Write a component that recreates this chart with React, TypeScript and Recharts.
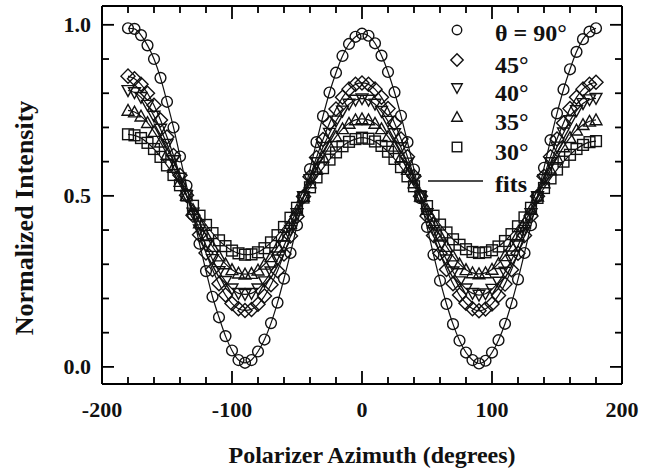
import React from "react";
import { LineChart, Line, XAxis, YAxis } from "recharts";

if (typeof document !== "undefined") document.body.style.margin = "0";

const FONT = "'Liberation Serif', 'Times New Roman', serif";

// polarizer azimuth, degrees
const ANGLES = [
  -180, -175, -170, -165, -160, -155, -150, -145, -140, -135, -130, -125, -120, -115, -110, -105, -100, -95, -90,
  -85, -80, -75, -70, -65, -60, -55, -50, -45, -40, -35, -30, -25, -20, -15, -10, -5, 0,
  5, 10, 15, 20, 25, 30, 35, 40, 45, 50, 55, 60, 65, 70, 75, 80, 85, 90,
  95, 100, 105, 110, 115, 120, 125, 130, 135, 140, 145, 150, 155, 160, 165, 170, 175, 180,
];

// normalized intensity, one list per theta
const THETA_90 = [
  0.99, 0.988, 0.97, 0.94, 0.9, 0.845, 0.775, 0.7, 0.615, 0.53, 0.445, 0.36, 0.28, 0.205, 0.145, 0.09, 0.048, 0.02, 0.012,
  0.02, 0.045, 0.08, 0.128, 0.188, 0.258, 0.333, 0.414, 0.497, 0.578, 0.657, 0.733, 0.802, 0.86, 0.909, 0.944, 0.965, 0.974,
  0.968, 0.946, 0.91, 0.862, 0.803, 0.734, 0.657, 0.577, 0.493, 0.409, 0.328, 0.252, 0.184, 0.125, 0.077, 0.042, 0.02, 0.01,
  0.018, 0.042, 0.078, 0.126, 0.186, 0.256, 0.333, 0.414, 0.498, 0.582, 0.663, 0.741, 0.811, 0.87, 0.921, 0.958, 0.98, 0.99,
];
const THETA_45 = [
  0.85, 0.842, 0.826, 0.8, 0.765, 0.722, 0.672, 0.618, 0.56, 0.502, 0.443, 0.386, 0.333, 0.285, 0.243, 0.21, 0.185, 0.17, 0.165,
  0.168, 0.183, 0.207, 0.24, 0.281, 0.33, 0.383, 0.44, 0.498, 0.556, 0.612, 0.665, 0.712, 0.754, 0.788, 0.812, 0.826, 0.83,
  0.826, 0.812, 0.788, 0.755, 0.713, 0.666, 0.614, 0.557, 0.499, 0.441, 0.384, 0.332, 0.285, 0.243, 0.21, 0.186, 0.17, 0.164,
  0.169, 0.184, 0.209, 0.242, 0.284, 0.332, 0.384, 0.441, 0.499, 0.557, 0.614, 0.666, 0.713, 0.755, 0.788, 0.812, 0.826, 0.832,
];
const THETA_40 = [
  0.808, 0.802, 0.788, 0.765, 0.733, 0.695, 0.651, 0.603, 0.552, 0.501, 0.45, 0.401, 0.355, 0.314, 0.279, 0.25, 0.228, 0.215, 0.212,
  0.215, 0.228, 0.249, 0.278, 0.313, 0.354, 0.399, 0.448, 0.498, 0.548, 0.597, 0.642, 0.683, 0.719, 0.748, 0.768, 0.78, 0.784,
  0.78, 0.768, 0.747, 0.718, 0.682, 0.641, 0.596, 0.548, 0.498, 0.448, 0.399, 0.354, 0.313, 0.278, 0.249, 0.228, 0.215, 0.21,
  0.214, 0.227, 0.248, 0.277, 0.312, 0.354, 0.399, 0.448, 0.498, 0.548, 0.597, 0.643, 0.684, 0.72, 0.749, 0.77, 0.781, 0.785,
];
const THETA_35 = [
  0.75, 0.745, 0.733, 0.714, 0.688, 0.657, 0.621, 0.583, 0.542, 0.501, 0.46, 0.421, 0.385, 0.352, 0.324, 0.301, 0.284, 0.274, 0.271,
  0.273, 0.283, 0.3, 0.322, 0.35, 0.383, 0.419, 0.458, 0.498, 0.538, 0.577, 0.613, 0.645, 0.673, 0.696, 0.712, 0.722, 0.725,
  0.722, 0.712, 0.696, 0.673, 0.645, 0.613, 0.577, 0.538, 0.499, 0.46, 0.421, 0.385, 0.352, 0.324, 0.301, 0.284, 0.275, 0.272,
  0.275, 0.285, 0.302, 0.325, 0.353, 0.386, 0.421, 0.46, 0.499, 0.538, 0.576, 0.611, 0.643, 0.67, 0.692, 0.708, 0.718, 0.722,
];
const THETA_30 = [
  0.68, 0.677, 0.669, 0.655, 0.637, 0.614, 0.589, 0.561, 0.531, 0.501, 0.471, 0.442, 0.415, 0.391, 0.37, 0.353, 0.34, 0.332, 0.328,
  0.329, 0.335, 0.347, 0.364, 0.385, 0.409, 0.436, 0.465, 0.495, 0.525, 0.554, 0.581, 0.606, 0.627, 0.645, 0.658, 0.666, 0.67,
  0.667, 0.659, 0.646, 0.629, 0.608, 0.584, 0.557, 0.528, 0.499, 0.47, 0.442, 0.416, 0.393, 0.373, 0.357, 0.344, 0.336, 0.333,
  0.335, 0.341, 0.352, 0.368, 0.388, 0.411, 0.437, 0.465, 0.494, 0.523, 0.551, 0.577, 0.6, 0.62, 0.637, 0.649, 0.657, 0.66,
];

const X_TICKS = [-200, -180, -160, -140, -120, -100, -80, -60, -40, -20, 0, 20, 40, 60, 80, 100, 120, 140, 160, 180, 200];
const Y_TICKS = [0, 0.1, 0.2, 0.3, 0.4, 0.5, 0.6, 0.7, 0.8, 0.9, 1.0];
const Y_LABELS: Record<string, string> = { "0": "0.0", "0.5": "0.5", "1": "1.0" };

const SERIES = [
  { key: "t90", label: "\u03b8 = 90\u00b0", shape: "circle", values: THETA_90 },
  { key: "t45", label: "45\u00b0", shape: "diamond", values: THETA_45 },
  { key: "t40", label: "40\u00b0", shape: "down", values: THETA_40 },
  { key: "t35", label: "35\u00b0", shape: "up", values: THETA_35 },
  { key: "t30", label: "30\u00b0", shape: "square", values: THETA_30 },
];

const data = ANGLES.map((phi, i) => {
  const row: any = { phi };
  SERIES.forEach((s) => (row[s.key] = s.values[i]));
  return row;
});

const Marker = ({ shape, cx, cy, scale = 1 }: any) => {
  const common = { fill: "none", stroke: "#111", strokeWidth: 1.4 };
  const r = 5 * scale;
  switch (shape) {
    case "circle":
      return <circle cx={cx} cy={cy} r={r} {...common} />;
    case "diamond": {
      const d = 6.5 * scale;
      return <polygon points={`${cx},${cy - d} ${cx + d},${cy} ${cx},${cy + d} ${cx - d},${cy}`} {...common} />;
    }
    case "down":
      return <polygon points={`${cx - 5.5 * scale},${cy - 4.5 * scale} ${cx + 5.5 * scale},${cy - 4.5 * scale} ${cx},${cy + 5.5 * scale}`} {...common} />;
    case "up":
      return <polygon points={`${cx - 5.5 * scale},${cy + 4.5 * scale} ${cx + 5.5 * scale},${cy + 4.5 * scale} ${cx},${cy - 5.5 * scale}`} {...common} />;
    default:
      return <rect x={cx - r} y={cy - r} width={2 * r} height={2 * r} {...common} />;
  }
};

const isMajorX = (v: number) => v % 100 === 0;
const isMajorY = (v: number) => Math.abs(v * 2 - Math.round(v * 2)) < 1e-6;

const BottomTick = ({ x, y, payload }: any) => {
  const major = isMajorX(payload.value);
  return (
    <g>
      <line x1={x} y1={y} x2={x} y2={y - (major ? 13 : 7)} stroke="#000" strokeWidth={1.8} />
      {major && (
        <text x={x} y={y + 33} textAnchor="middle" fontFamily={FONT} fontWeight="bold" fontSize={22} fill="#111">
          {payload.value}
        </text>
      )}
    </g>
  );
};

const TopTick = ({ x, y, payload }: any) => {
  const major = isMajorX(payload.value);
  return <line x1={x} y1={y} x2={x} y2={y + (major ? 13 : 7)} stroke="#000" strokeWidth={1.8} />;
};

const LeftTick = ({ x, y, payload }: any) => {
  const major = isMajorY(payload.value);
  const label = Y_LABELS[String(Math.round(payload.value * 10) / 10)];
  return (
    <g>
      <line x1={x} y1={y} x2={x + (major ? 12 : 7)} y2={y} stroke="#000" strokeWidth={1.8} />
      {label && (
        <text x={x - 11} y={y + 7} textAnchor="end" fontFamily={FONT} fontWeight="bold" fontSize={22} fill="#111">
          {label}
        </text>
      )}
    </g>
  );
};

const RightTick = ({ x, y, payload }: any) => {
  const major = isMajorY(payload.value);
  return <line x1={x} y1={y} x2={x - (major ? 12 : 7)} y2={y} stroke="#000" strokeWidth={1.8} />;
};

const axisLine = { stroke: "#000", strokeWidth: 2 };

export default function App() {
  return (
    <div style={{ position: "relative", width: 657, height: 473, background: "#fff" }}>
      <LineChart width={657} height={473} data={data} margin={{ top: 5, right: 34, bottom: 59, left: 0 }}>
        <XAxis
          dataKey="phi"
          type="number"
          domain={[-200, 200]}
          ticks={X_TICKS}
          interval={0}
          height={30}
          tickSize={0}
          tickMargin={0}
          tickLine={false}
          axisLine={axisLine}
          tick={(p: any) => <BottomTick {...p} />}
        />
        <XAxis
          xAxisId="top"
          orientation="top"
          dataKey="phi"
          type="number"
          domain={[-200, 200]}
          ticks={X_TICKS}
          interval={0}
          height={1}
          tickSize={0}
          tickMargin={0}
          tickLine={false}
          axisLine={axisLine}
          tick={(p: any) => <TopTick {...p} />}
        />
        <YAxis
          type="number"
          domain={[-0.05, 1.055]}
          ticks={Y_TICKS}
          interval={0}
          width={102}
          tickSize={0}
          tickMargin={0}
          tickLine={false}
          axisLine={axisLine}
          tick={(p: any) => <LeftTick {...p} />}
        />
        <YAxis
          yAxisId="right"
          orientation="right"
          type="number"
          domain={[-0.05, 1.055]}
          ticks={Y_TICKS}
          interval={0}
          width={1}
          tickSize={0}
          tickMargin={0}
          tickLine={false}
          axisLine={axisLine}
          tick={(p: any) => <RightTick {...p} />}
        />
        {/* invisible copy bound to the top/right frame axes */}
        <Line
          xAxisId="top"
          yAxisId="right"
          dataKey="t90"
          stroke="none"
          dot={false}
          activeDot={false}
          isAnimationActive={false}
        />
        {SERIES.map((s) => (
          <Line
            key={s.key}
            dataKey={s.key}
            type="monotone"
            stroke="#111"
            strokeWidth={1.2}
            isAnimationActive={false}
            activeDot={false}
            dot={(p: any) => <Marker key={`${s.key}-${p.index}`} shape={s.shape} cx={p.cx} cy={p.cy} scale={1.08} />}
          />
        ))}
      </LineChart>

      <svg width={657} height={473} style={{ position: "absolute", left: 0, top: 0, pointerEvents: "none" }}>
        {SERIES.map((s, i) => {
          const ys = [30, 60, 88, 117, 147];
          const ty = [41, 73, 101, 130, 160];
          return (
            <g key={s.key}>
              <Marker shape={s.shape} cx={457} cy={ys[i]} scale={0.95} />
              <text x={495} y={ty[i]} fontFamily={FONT} fontWeight="bold" fontSize={24} fill="#111">
                {s.label}
              </text>
            </g>
          );
        })}
        <line x1={428} y1={181} x2={483} y2={181} stroke="#111" strokeWidth={1.3} />
        <text x={495} y={192} fontFamily={FONT} fontWeight="bold" fontSize={24} fill="#111">
          fits
        </text>
        <text x={372} y={463} textAnchor="middle" fontFamily={FONT} fontWeight="bold" fontSize={24} fill="#111">
          Polarizer Azimuth (degrees)
        </text>
        <text
          x={33}
          y={218}
          transform="rotate(-90, 33, 218)"
          textAnchor="middle"
          fontFamily={FONT}
          fontWeight="bold"
          fontSize={26}
          fill="#111"
        >
          Normalized Intensity
        </text>
      </svg>
    </div>
  );
}
